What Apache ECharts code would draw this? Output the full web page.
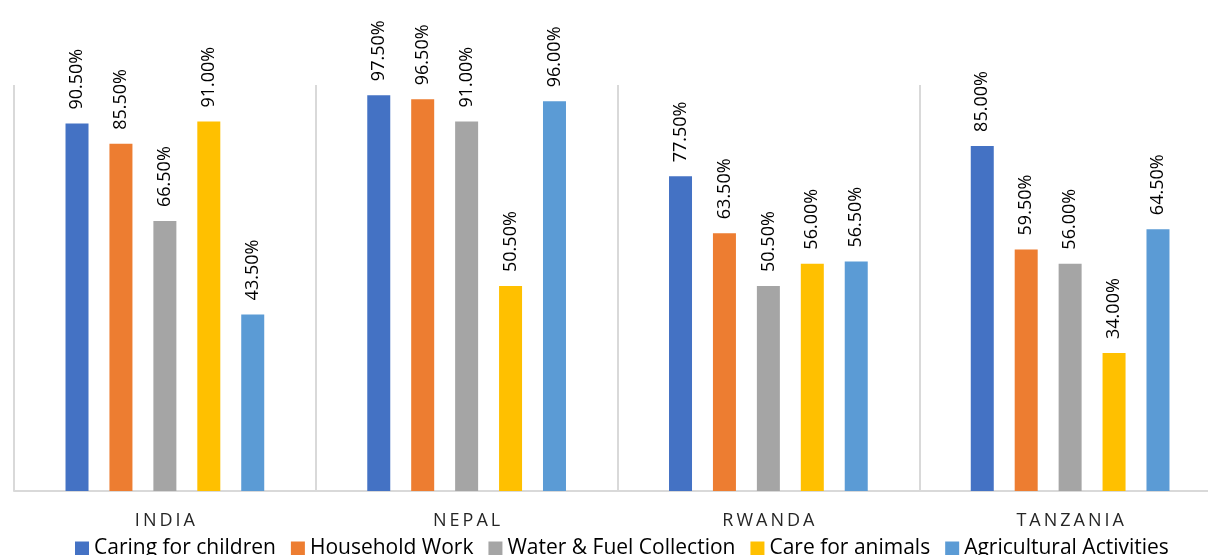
<!DOCTYPE html>
<html>
<head>
<meta charset="utf-8">
<script src="https://cdn.jsdelivr.net/npm/echarts@6/dist/echarts.min.js"></script>
<style>
  html, body { margin: 0; padding: 0; background: #fff; }
  #chart { width: 1208px; height: 555px; }
</style>
</head>
<body>
<div id="chart"></div>
<script>
// countries on the x axis
var countries = ['INDIA', 'NEPAL', 'RWANDA', 'TANZANIA'];

// share of respondents per activity (%)
var caringForChildren = [90.5, 97.5, 77.5, 85.0];
var householdWork = [85.5, 96.5, 63.5, 59.5];
var waterFuelCollection = [66.5, 91.0, 50.5, 56.0];
var careForAnimals = [91.0, 50.5, 56.0, 34.0];
var agriculturalActivities = [43.5, 96.0, 56.5, 64.5];

var seriesNames = ['Caring for children', 'Household Work', 'Water & Fuel Collection', 'Care for animals', 'Agricultural Activities'];
var seriesValues = [caringForChildren, householdWork, waterFuelCollection, careForAnimals, agriculturalActivities];

var chart = echarts.init(document.getElementById('chart'));

var series = [];
for (var i = 0; i < seriesNames.length; i++) {
    series.push({
        name: seriesNames[i],
        type: 'bar',
        data: seriesValues[i],
        barWidth: 23,
        barGap: '91%',
        label: {
            show: true,
            position: 'top',
            rotate: 90,
            align: 'left',
            verticalAlign: 'middle',
            distance: 14,
            fontFamily: 'Open Sans',
            fontSize: 18,
            color: '#000',
            formatter: function (p) {
                return p.value.toFixed(2) + '%';
            }
        }
    });
}

var option = {
    animation: false,
    color: ['#4472C4', '#ED7D31', '#A5A5A5', '#FFC000', '#5B9BD5'],
    grid: {
        left: 14,
        top: 85,
        width: 1207,
        bottom: 64,
        outerBoundsMode: 'none'
    },
    legend: {
        data: seriesNames,
        left: 70,
        top: 533,
        itemWidth: 14,
        itemHeight: 14,
        itemGap: 15,
        icon: 'rect',
        textStyle: {
            fontFamily: 'Open Sans',
            fontSize: 21,
            color: '#000'
        }
    },
    xAxis: {
        type: 'category',
        data: countries,
        axisLine: { lineStyle: { color: '#d9d9d9', width: 2 } },
        axisTick: { show: false },
        splitLine: { show: true, lineStyle: { color: '#d9d9d9', width: 2 } },
        axisLabel: {
            margin: 21,
            fontFamily: 'Open Sans',
            fontSize: 18,
            color: '#262626',
            formatter: function (v) {
                return v.split('').join('\u2009');
            }
        }
    },
    yAxis: {
        type: 'value',
        min: 0,
        max: 100,
        show: false
    },
    series: series
};

chart.setOption(option);
</script>
</body>
</html>
